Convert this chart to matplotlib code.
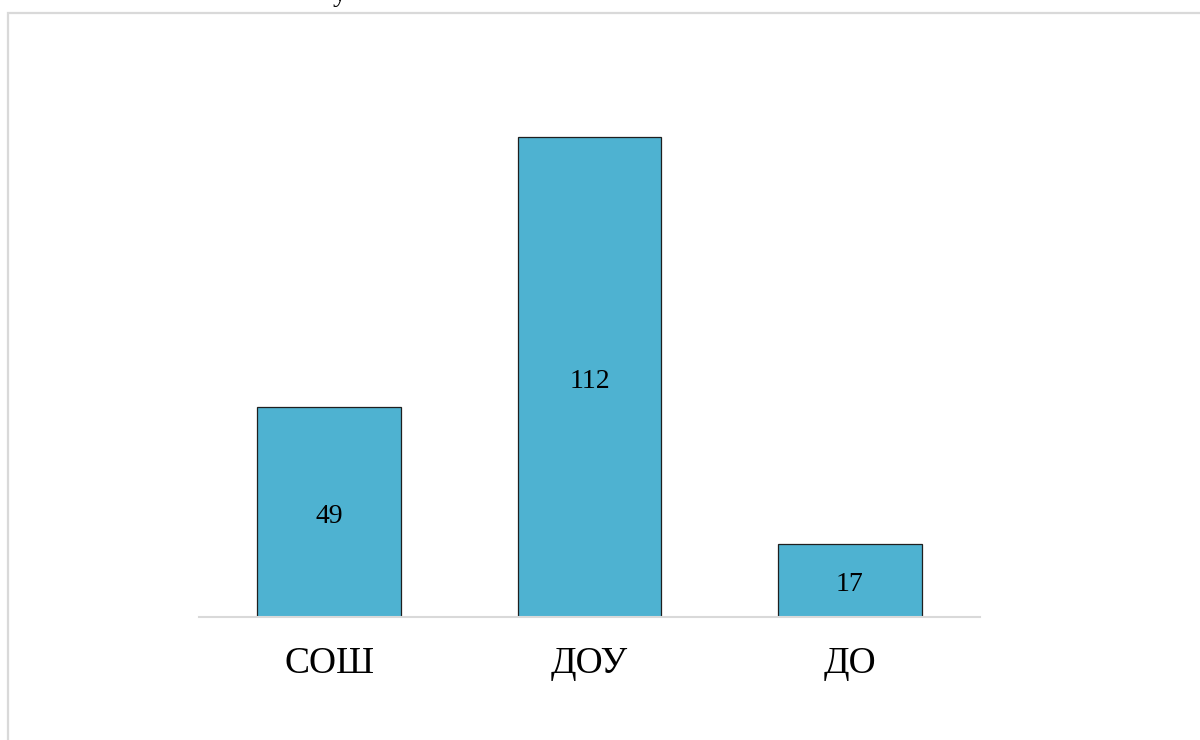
import matplotlib.pyplot as plt
from matplotlib.patches import Rectangle

categories = ["СОШ", "ДОУ", "ДО"]
values = [49, 112, 17]

BAR = "#4EB2D1"
EDGE = "#1F1F1F"
GRID = "#D9D9D9"

plt.rcParams["font.family"] = ["Liberation Serif", "DejaVu Serif"]

fig = plt.figure(figsize=(12, 7.4), dpi=100)
ax = fig.add_axes([0.1658, 0.1662, 0.6509, 0.6950])

x = range(len(categories))
bars = ax.bar(x, values, width=0.553, color=BAR, edgecolor=EDGE, linewidth=0.9)
for b, v in zip(bars, values):
    ax.annotate(str(v), (b.get_x() + b.get_width() / 2, v / 2),
                textcoords="offset points", xytext=(0, -3),
                ha="center", va="center", fontsize=20, color="black")

ax.set_xlim(-0.5, 2.5)
ax.set_ylim(0, 120)
ax.set_xticks(list(x), categories, fontsize=27)
ax.tick_params(axis="x", length=0, pad=21)
ax.set_yticks([])
for side in ("top", "right", "left"):
    ax.spines[side].set_visible(False)
ax.spines["bottom"].set_color(GRID)
ax.spines["bottom"].set_linewidth(1.5)

# outer chart frame (cut off at right and bottom)
fig.patches.append(Rectangle((8 / 1200, -0.1), 1.2, 1.1 - 13 / 740,
                             transform=fig.transFigure, fill=False,
                             edgecolor=GRID, linewidth=1.6))

# descender of a title letter clipped by the top edge
fig.text(340 / 1200, 1 - 1 / 740, "у", fontsize=20, ha="center", va="baseline")

fig.savefig("out.png", dpi=100)
